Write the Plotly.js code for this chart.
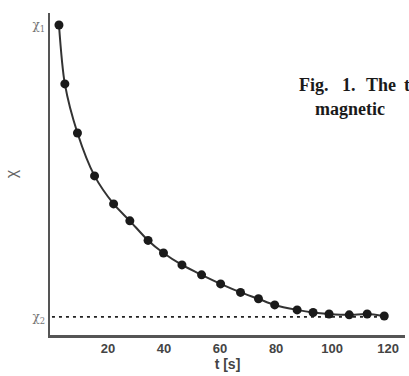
<!DOCTYPE html>
<html>
<head>
<meta charset="utf-8">
<script src="https://cdn.plot.ly/plotly-3.0.1.min.js"></script>
<style>html,body{margin:0;padding:0;background:#fff;overflow:hidden;}#chart{width:409px;height:376px;}</style>
</head>
<body>
<div id="chart"></div>
<script>
// time in seconds
const timeS = [2.5, 4.6, 9.1, 15.2, 22.0, 27.8, 34.3, 39.8, 46.4, 53.4, 60.2, 67.3, 73.7, 79.5, 87.5, 93.2, 98.9, 106.1, 112.5, 118.6];
// susceptibility, normalised: chi1 = 1, chi2 = 0
const chiValues = [1.0, 0.798, 0.630, 0.483, 0.387, 0.329, 0.262, 0.219, 0.178, 0.144, 0.113, 0.084, 0.062, 0.041, 0.024, 0.015, 0.010, 0.007, 0.010, 0.003];
// asymptote chi2
const asymptoteX = [0, 118.6];
const asymptoteY = [0, 0];
const xTickVals = [20, 40, 60, 80, 100, 120];
const yTickVals = [1, 0];
const yTickText = ['χ<sub>1</sub>', 'χ<sub>2</sub>'];
// caption fragment (justified words)
const captionLine1 = ['Fig.', '1.', 'The', 't'];
const captionLine2 = ['magnetic'];

const capFont = {family: 'Liberation Serif, Times New Roman, serif', size: 18, color: '#1a1a1a', weight: 'bold'};
const L = 50, W = 355, T = 13, H = 322;
const px = v => (v - L) / W;
const py = v => (T + H - v) / H;
const line1X = [297, 340, 364, 402];
const annotations = captionLine1.map((w, i) => ({
  xref: 'paper', yref: 'paper', x: px(line1X[i]), y: py(85), xanchor: 'left', yanchor: 'middle',
  text: w, showarrow: false, font: capFont
})).concat(captionLine2.map(w => ({
  xref: 'paper', yref: 'paper', x: px(313), y: py(109), xanchor: 'left', yanchor: 'middle',
  text: w, showarrow: false, font: capFont
})));

const traces = [
  {x: asymptoteX, y: asymptoteY, type: 'scatter', mode: 'lines',
   line: {color: '#222', width: 1.6, dash: '3px,4px'}, hoverinfo: 'skip'},
  {x: timeS, y: chiValues, type: 'scatter', mode: 'lines+markers',
   line: {color: '#333', width: 2, shape: 'spline', smoothing: 0.8},
   marker: {color: '#1a1a1a', size: 9}}
];

const layout = {
  width: 409, height: 376,
  margin: {l: L, r: 409 - L - W, t: T, b: 376 - T - H},
  paper_bgcolor: '#fff', plot_bgcolor: '#fff',
  showlegend: false,
  xaxis: {
    range: [-0.7, 126], tickvals: xTickVals, showgrid: false, zeroline: false,
    showline: true, linecolor: '#555', linewidth: 2.5, ticks: '',
    tickfont: {family: 'Liberation Sans, Arial, sans-serif', size: 13, color: '#444', weight: 'bold'},
    title: {text: '<b>t [s]</b>', font: {family: 'Liberation Sans, Arial, sans-serif', size: 14, color: '#444'}, standoff: 2}
  },
  yaxis: {
    range: [-0.062, 1.041], tickvals: yTickVals, ticktext: yTickText,
    showgrid: false, zeroline: false, showline: true, linecolor: '#555', linewidth: 2.5, ticks: '',
    tickfont: {family: 'DejaVu Serif, serif', size: 12, color: '#777'},
    title: {text: 'χ', font: {family: 'Liberation Sans, Arial, sans-serif', size: 16, color: '#666'}, standoff: 11}
  },
  annotations: annotations
};

Plotly.newPlot('chart', traces, layout, {displayModeBar: false, staticPlot: true});
</script>
</body>
</html>
